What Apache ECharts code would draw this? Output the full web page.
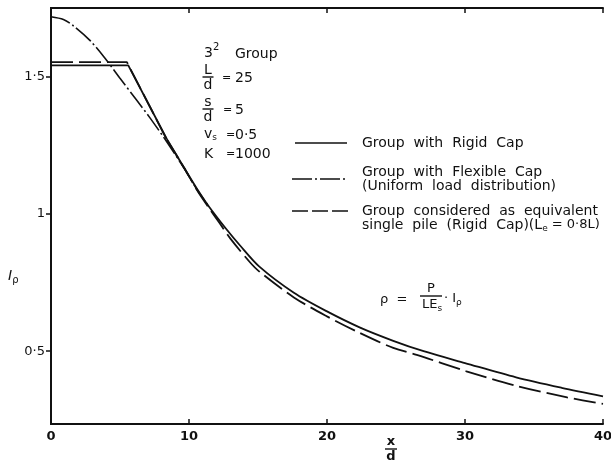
<!DOCTYPE html>
<html>
<head>
<meta charset="utf-8">
<script src="https://cdn.jsdelivr.net/npm/echarts@6/dist/echarts.min.js"></script>
<style>
  html, body { margin: 0; padding: 0; background: #ffffff; }
  #chart { width: 611px; height: 465px; }
</style>
</head>
<body>
<div id="chart"></div>
<script>
// Settlement influence factor I_rho against spacing ratio x/d, 3x3 pile group
const xTickValues = [0, 10, 20, 30, 40];
const yTickValues = [0.5, 1, 1.5];
const yTickLabels = ['0·5', '1', '1·5'];

// Group with rigid cap: plateau and knee, then the decaying branch
const rigidHeadX = [0, 5.6, 8.4];
const rigidHeadY = [1.541, 1.541, 1.272];
const rigidTailX = [8.4, 9.6, 10.6, 11.4, 12.7, 13.7, 15.1, 17.6, 20, 22.4, 24.8, 27, 30, 33.7, 37, 40];
const rigidTailY = [1.272, 1.172, 1.09, 1.03, 0.945, 0.885, 0.808, 0.713, 0.645, 0.586, 0.538, 0.5, 0.457, 0.405, 0.367, 0.336];

// Group with flexible cap (uniform load distribution)
const flexX = [0, 0.9, 1.6, 2.8, 3.9, 5.0, 6.2, 7.2, 8.4, 9.6, 10.6, 11.4];
const flexY = [1.718, 1.708, 1.686, 1.633, 1.568, 1.494, 1.415, 1.348, 1.262, 1.17, 1.087, 1.03];

// Group considered as equivalent single pile (rigid cap), Le = 0.8L
const equivHeadX = [0, 5.5, 8.4];
const equivHeadY = [1.553, 1.553, 1.27];
const equivTailX = [8.4, 9.6, 10.6, 11.4, 12.2, 13.0, 14.4, 15.1, 17.6, 20, 22.4, 24.8, 26.5, 30.1, 33.7, 37.4, 40];
const equivTailY = [1.27, 1.172, 1.085, 1.025, 0.968, 0.91, 0.825, 0.79, 0.696, 0.627, 0.566, 0.512, 0.487, 0.427, 0.374, 0.332, 0.308];

const pairs = (xs, ys) => xs.map((x, i) => [x, ys[i]]);

const INK = '#111111';
const FONT = '"DejaVu Sans", "Liberation Sans", sans-serif';
const F14 = '14px ' + FONT;
const F13 = '13px ' + FONT;
const EQ = '11px ' + FONT;
const SUB = '9px ' + FONT;

const measureCtx = document.createElement('canvas').getContext('2d');
function textWidth(s, font) {
  measureCtx.font = font;
  return measureCtx.measureText(s).width;
}

function txt(x, y, s, opts) {
  return {
    type: 'text', x: x, y: y, silent: true,
    style: Object.assign({
      text: s, fill: INK, font: F14,
      textAlign: 'left', textVerticalAlign: 'middle'
    }, opts || {})
  };
}
// lay out a run of text pieces [string, font, dy] from left to right
function run(x, y, pieces) {
  const out = [];
  let cx = x;
  pieces.forEach(function (p) {
    const font = p[1] || F14;
    out.push(txt(cx, y + (p[2] || 0), p[0], { font: font }));
    cx += textWidth(p[0], font);
  });
  return out;
}
function seg(x1, y1, x2, y2, dash, w) {
  return {
    type: 'line', silent: true,
    shape: { x1: x1, y1: y1, x2: x2, y2: y2 },
    style: { stroke: INK, lineWidth: w || 1.6, lineDash: dash || null }
  };
}
// a stacked fraction centred on cx, with the bar at y
function frac(cx, y, top, bottom, halfWidth, font) {
  return [
    txt(cx, y - 7, top, { textAlign: 'center', font: font || F14 }),
    seg(cx - halfWidth, y, cx + halfWidth, y, null, 1.4),
    txt(cx, y + 8, bottom, { textAlign: 'center', font: font || F14 })
  ];
}

const DASH_DOT = [20, 3, 2, 3];
const DASHED = [22, 6];

const chart = echarts.init(document.getElementById('chart'), null, { renderer: 'canvas' });

const axisLine = { show: true, lineStyle: { color: INK, width: 2 } };
const tickStyle = { color: INK, width: 1.5 };

function curve(name, data, dash, smooth, width) {
  return {
    name: name, type: 'line', xAxisIndex: 0, yAxisIndex: 0,
    data: data, symbol: 'none', smooth: smooth,
    lineStyle: { color: INK, width: width, type: dash }
  };
}

const graphics = [].concat(
  // group parameters
  run(204, 53, [['3'], ['2', '10px ' + FONT, -6]]),
  [txt(235, 54, 'Group')],
  frac(208, 77, 'L', 'd', 5.5),
  [txt(222, 78, '=', { font: EQ }), txt(235, 78, '25')],
  frac(208, 109, 's', 'd', 5.5),
  [txt(223, 110, '=', { font: EQ }), txt(235, 110, '5')],
  run(204, 134, [['v'], ['s', SUB, 4]]),
  [txt(226, 135, '=', { font: EQ }), txt(235, 135, '0·5')],
  [txt(204, 154, 'K'), txt(226, 154, '=', { font: EQ }), txt(235, 154, '1000')],

  // key
  [
    seg(295, 143, 347, 143, null, 1.6),
    txt(362, 143, 'Group  with  Rigid  Cap'),
    seg(292, 179, 348, 179, DASH_DOT, 1.6),
    txt(362, 172, 'Group  with  Flexible  Cap'),
    txt(362, 186, '(Uniform  load  distribution)'),
    seg(292, 211, 348, 211, [16, 4], 1.6),
    txt(362, 211, 'Group  considered  as  equivalent')
  ],
  run(362, 225, [['single  pile  (Rigid  Cap)(L'], ['e', SUB, 4], [' = 0·8L)', '13px ' + FONT]]),

  // formula
  run(380, 300, [['ρ', F13], ['  =', F13]]),
  frac(431, 296, 'P', '', 11, F13),
  run(422, 305, [['LE', F13], ['s', SUB, 4]]),
  run(444, 299, [['·', F13], [' I', F13], ['ρ', SUB, 4]]),

  // axis titles
  run(8, 276, [['I', 'italic 14px ' + FONT], ['ρ', '10px ' + FONT, 4]]),
  frac(391, 449, 'x', 'd', 6, 'bold 13px ' + FONT)
);

chart.setOption({
  animation: false,
  backgroundColor: '#ffffff',
  grid: { left: 51, right: 8, top: 8, bottom: 41, containLabel: false, outerBoundsMode: 'none' },
  xAxis: [
    {
      type: 'value', position: 'bottom', min: 0, max: 40, interval: 10,
      axisLine: axisLine,
      axisTick: { show: true, inside: true, length: 5, lineStyle: tickStyle },
      axisLabel: {
        show: true, color: INK, fontFamily: FONT, fontSize: 13, fontWeight: 'bold', margin: 6,
        customValues: xTickValues
      },
      splitLine: { show: false }
    },
    {
      type: 'value', position: 'top', min: 0, max: 40, interval: 10,
      axisLine: axisLine,
      axisTick: { show: true, inside: true, length: 5, lineStyle: tickStyle },
      axisLabel: { show: false },
      splitLine: { show: false }
    }
  ],
  yAxis: [
    {
      type: 'value', position: 'left', min: 0.235, max: 1.75,
      axisLine: axisLine,
      axisTick: { show: true, inside: false, length: 5, customValues: yTickValues, lineStyle: tickStyle },
      axisLabel: {
        show: true, color: INK, fontFamily: FONT, fontSize: 13, margin: 6,
        customValues: yTickValues,
        formatter: function (v) {
          const i = yTickValues.findIndex(t => Math.abs(t - v) < 1e-6);
          return i >= 0 ? yTickLabels[i] : '';
        }
      },
      splitLine: { show: false }
    },
    {
      type: 'value', position: 'right', min: 0.235, max: 1.75,
      axisLine: axisLine,
      axisTick: { show: true, inside: true, length: 5, customValues: yTickValues, lineStyle: tickStyle },
      axisLabel: { show: false },
      splitLine: { show: false }
    }
  ],
  series: [
    curve('Group with Rigid Cap', pairs(rigidHeadX, rigidHeadY), 'solid', false, 1.8),
    curve('Group with Rigid Cap', pairs(rigidTailX, rigidTailY), 'solid', 0.3, 1.8),
    curve('Group with Flexible Cap', pairs(flexX, flexY), DASH_DOT, 0.3, 1.6),
    curve('Equivalent single pile', pairs(equivHeadX, equivHeadY), DASHED, false, 1.8),
    curve('Equivalent single pile', pairs(equivTailX, equivTailY), DASHED, 0.3, 1.8)
  ],
  graphic: graphics
});
</script>
</body>
</html>
